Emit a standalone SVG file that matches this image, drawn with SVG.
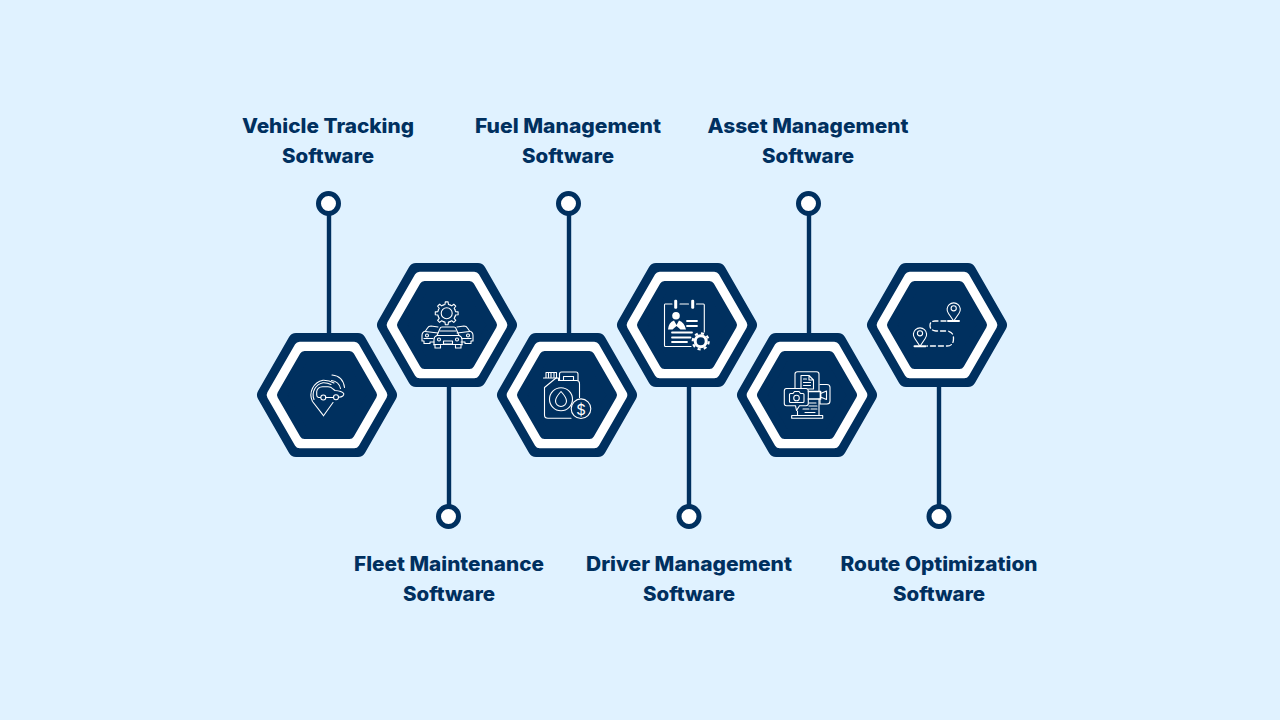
<svg xmlns="http://www.w3.org/2000/svg" xmlns:xlink="http://www.w3.org/1999/xlink" width="1280" height="720" viewBox="0 0 1280 720">
<style>
.lbl{font-family:"Inter","Liberation Sans",sans-serif;font-weight:800;font-size:20px;fill:#00305f;text-anchor:middle}
.ln{stroke:#00305f;stroke-width:4.400;fill:none}
.dot{fill:#fff;stroke:#00305f;stroke-width:5}
.ic{fill:none;stroke:#fff;stroke-width:1.100;stroke-linecap:round;stroke-linejoin:round}
.ic2{fill:none;stroke:#fff;stroke-width:1.300;stroke-linecap:round;stroke-linejoin:round}
.wf{fill:#fff;stroke:none}
</style>
<defs>
<g id="hex">
<polygon points="-62,0 -31,-54 31,-54 62,0 31,54 -31,54" fill="#00305f" stroke="#00305f" stroke-width="16" stroke-linejoin="round"/>
<polygon points="-55,0 -27.3,-48 27.3,-48 55,0 27.3,48 -27.3,48" fill="#fff" stroke="#fff" stroke-width="10.6" stroke-linejoin="round"/>
<polygon points="-45,0 -22.5,-39 22.5,-39 45,0 22.5,39 -22.5,39" fill="#00305f" stroke="#00305f" stroke-width="10" stroke-linejoin="round"/>
</g>
<path id="tooth" d="M-3.44-8.31L-1.72-8.83L-1.4-11.41H1.4L1.72-8.83L3.44-8.31"/>
<g id="sidecar">
<path d="M438 327L431 326Q428.500 326 427.500 328L425.500 331Q422 332 422 335.500V341H424V343.500H430V342H434"/>
<path d="M425.500 331.500L438 333"/>
<circle cx="427" cy="335.500" r="1.500"/>
<path d="M424 338.500H433"/>
</g>
</defs>
<rect width="1280" height="720" fill="#e0f2ff"/>
<g id="connectors">
<path class="ln" d="M329 214V335"/>
<path class="ln" d="M449 385V505"/>
<path class="ln" d="M569 214V335"/>
<path class="ln" d="M689 385V505"/>
<path class="ln" d="M809 214V335"/>
<path class="ln" d="M939 385V505"/>
</g>
<g id="node-vehicle-tracking">
<text class="lbl" x="328" y="133" textLength="172" lengthAdjust="spacingAndGlyphs">Vehicle Tracking</text>
<text class="lbl" x="328" y="163" textLength="92" lengthAdjust="spacingAndGlyphs">Software</text>
<circle class="dot" cx="328.500" cy="203.500" r="10"/>
<use xlink:href="#hex" href="#hex" x="327" y="395"/>
<g class="ic">
<path d="M323.500 415.700L312.500 401.500A15 15 0 0 1 323 380.200Q329 380 334 383"/>
<path d="M314 399.500A12.500 12.500 0 0 1 323 382.700Q327.500 382.500 331 384.500"/>
<path d="M320.500 397.500H318.500Q316.700 397 316.700 395V391.500Q317.500 387 322.500 386.700H328Q331 386.700 333 389L335 390.500Q342 391 343.700 393.500Q344.500 396.500 338.500 397.300"/>
<path d="M325.500 397.500H333.500"/>
<circle cx="323.300" cy="397.500" r="2.500"/>
<circle cx="336" cy="397.300" r="2.500"/>
<path d="M332 375Q343 376 344.500 387.500"/>
<path d="M331.500 380.500Q339 381.500 340.500 388.500"/>
<path d="M333 402.500L323.500 415.700"/>
</g>
</g>
<g id="node-fleet-maintenance">
<use xlink:href="#hex" href="#hex" x="447" y="325"/>
<circle class="dot" cx="448.500" cy="516.500" r="10"/>
<text class="lbl" x="449" y="571" textLength="190" lengthAdjust="spacingAndGlyphs">Fleet Maintenance</text>
<text class="lbl" x="449" y="601" textLength="92" lengthAdjust="spacingAndGlyphs">Software</text>
<g class="ic">
<g transform="translate(446.700 313.300)">
<use href="#tooth" xlink:href="#tooth"/>
<use href="#tooth" xlink:href="#tooth" transform="rotate(45)"/>
<use href="#tooth" xlink:href="#tooth" transform="rotate(90)"/>
<use href="#tooth" xlink:href="#tooth" transform="rotate(135)"/>
<use href="#tooth" xlink:href="#tooth" transform="rotate(180)"/>
<use href="#tooth" xlink:href="#tooth" transform="rotate(225)"/>
<use href="#tooth" xlink:href="#tooth" transform="rotate(270)"/>
<use href="#tooth" xlink:href="#tooth" transform="rotate(315)"/>
<circle r="5.500"/>
</g>
<use href="#sidecar" xlink:href="#sidecar"/>
<use href="#sidecar" xlink:href="#sidecar" transform="translate(895 0) scale(-1 1)"/>
<path d="M434 345V339.500Q434 336.500 437 335.500L440 328.500Q440.500 327 442 327H454Q455.500 327 456 328.500L459 335.500Q462 336.500 462 339.500V345"/>
<path d="M434 344.500H462M435 345V348H440.500V345.500M455.500 345.500V348H461V345M437 335.500H459M440 331H456"/>
<circle cx="439" cy="339.500" r="1.500"/>
<circle cx="457" cy="339.500" r="1.500"/>
<rect x="443.500" y="341" width="9" height="3"/>
</g>
</g>
<g id="node-fuel-management">
<text class="lbl" x="568" y="133" textLength="186" lengthAdjust="spacingAndGlyphs">Fuel Management</text>
<text class="lbl" x="568" y="163" textLength="92" lengthAdjust="spacingAndGlyphs">Software</text>
<circle class="dot" cx="568.500" cy="203.500" r="10"/>
<use xlink:href="#hex" href="#hex" x="567" y="395"/>
<g class="ic">
<path d="M571 418.300H548Q544.500 418.300 544.500 415V387.500L556 378H558.500V380.500H576.500Q579.500 380.500 579.500 383.500V397.500"/>
<path d="M546 378V372.500H556.500V378M543.500 378H557M548.500 373V377M551 373V377M554 373V377"/>
<path d="M559.500 380.500V374Q559.500 372 561.500 372H576Q578 372 578 374V380.500"/>
<path d="M563.500 380.500V376.500H573.500V380.500"/>
<circle cx="561" cy="399.300" r="11.500"/>
<path d="M561 391.500Q566.500 397.500 566.500 401A5.500 5.500 0 0 1 555.500 401Q555.500 397.500 561 391.500Z"/>
<circle cx="581" cy="408.700" r="9.800"/>
</g>
<text x="581" y="414.500" font-family="Inter,'Liberation Sans',sans-serif" font-size="15" fill="#fff" text-anchor="middle">$</text>
</g>
<g id="node-driver-management">
<use xlink:href="#hex" href="#hex" x="687" y="325"/>
<circle class="dot" cx="689" cy="516.500" r="10"/>
<text class="lbl" x="689" y="571" textLength="206" lengthAdjust="spacingAndGlyphs">Driver Management</text>
<text class="lbl" x="689" y="601" textLength="92" lengthAdjust="spacingAndGlyphs">Software</text>
<path class="ic" d="M672 304H665Q664.500 304 664.500 305V345.500Q664.500 346.500 665.500 346.500H691M680 304H688.500M696.500 304H703.500Q704.300 304 704.300 305V332"/>
<rect class="wf" x="674.200" y="299.700" width="3" height="9" rx="1.200"/>
<rect class="wf" x="691.200" y="299.700" width="3" height="9" rx="1.200"/>
<circle class="wf" cx="676" cy="315.700" r="3.800"/>
<path class="wf" d="M668 329.500Q668.500 322.500 674 320.500L676.500 325L679 320.500Q684.500 322.500 686 329.500H680.500L676.500 326L672.500 329.500Z"/>
<path class="ic2" style="stroke-width:1.800" d="M687 321H697M687 326H697M672 332.500H692M672 337.500H690.500M672 342H687"/>
<circle cx="700.700" cy="341.300" r="5.500" fill="none" stroke="#fff" stroke-width="3"/>
<circle cx="700.700" cy="341.300" r="8" fill="none" stroke="#fff" stroke-width="2.200" stroke-dasharray="3.100 3.180"/>
</g>
<g id="node-asset-management">
<text class="lbl" x="808" y="133" textLength="201" lengthAdjust="spacingAndGlyphs">Asset Management</text>
<text class="lbl" x="808" y="163" textLength="92" lengthAdjust="spacingAndGlyphs">Software</text>
<circle class="dot" cx="808.500" cy="203.500" r="10"/>
<use xlink:href="#hex" href="#hex" x="807" y="395"/>
<g class="ic">
<path d="M795 388V374Q795 371.700 797.500 371.700H816.500Q819 371.700 819 374V391"/>
<path d="M819 399V415M797.500 411V415M791.700 415.500V418.300H822.700V415.500H791.700Z"/>
<path d="M801 388V375.500H809L813.500 380V389H808.500M809 375.500V380H813.500M803.500 379H806.500M803.500 382.500H810.500M803.500 385.500H810.500"/>
<path d="M786.500 388.500H806Q808.300 388.500 808.300 391V403.500Q808.300 405.700 806 405.700H799.500L796.500 410.500L795.500 405.700H786.500Q784.300 405.700 784.300 403.500V391Q784.300 388.500 786.500 388.500Z"/>
<path d="M790.500 393.500H793L794.500 391.500H799L800.500 393.500H803Q804 393.500 804 394.500V401.500Q804 402.500 803 402.500H790.500Q789.500 402.500 789.500 401.500V394.500Q789.500 393.500 790.500 393.500Z"/>
<circle cx="796.500" cy="398" r="2.800"/>
<path style="stroke-width:1.700" d="M808.500 391.500H820.500V399H808.500"/>
<path d="M820.500 393.500L826.500 391V399.500L820.500 397"/>
<path d="M820 384.500H827Q830 384.500 830 387.500V401Q830 404 827 404H820V399"/>
<path d="M809 406H817M803 409H809M811 409H817M805 412.500H815M809 403H816"/>
</g>
</g>
<g id="node-route-optimization">
<use xlink:href="#hex" href="#hex" x="937" y="325"/>
<circle class="dot" cx="939" cy="516.500" r="10"/>
<text class="lbl" x="939" y="571" textLength="197" lengthAdjust="spacingAndGlyphs">Route Optimization</text>
<text class="lbl" x="939" y="601" textLength="92" lengthAdjust="spacingAndGlyphs">Software</text>
<g class="ic">
<path d="M953.700 321L948.500 313.500A6.600 6.600 0 1 1 958.900 313.500Z"/>
<circle cx="953.700" cy="308.300" r="2.600"/>
<path d="M920 346.300L914.800 338.500A6.600 6.600 0 1 1 925.200 338.500Z"/>
<circle cx="920" cy="333.300" r="2.600"/>
</g>
<path class="ic2" style="stroke-width:2" d="M948 321H959M914.500 346.300H925.500"/>
<path class="ic2" stroke-dasharray="5 3" d="M946 321H935Q930 321 930 325.500Q930 330.500 936 331H947Q953.500 331.500 953.500 338.500Q953.500 346 947 346H927"/>
</g>
</svg>
